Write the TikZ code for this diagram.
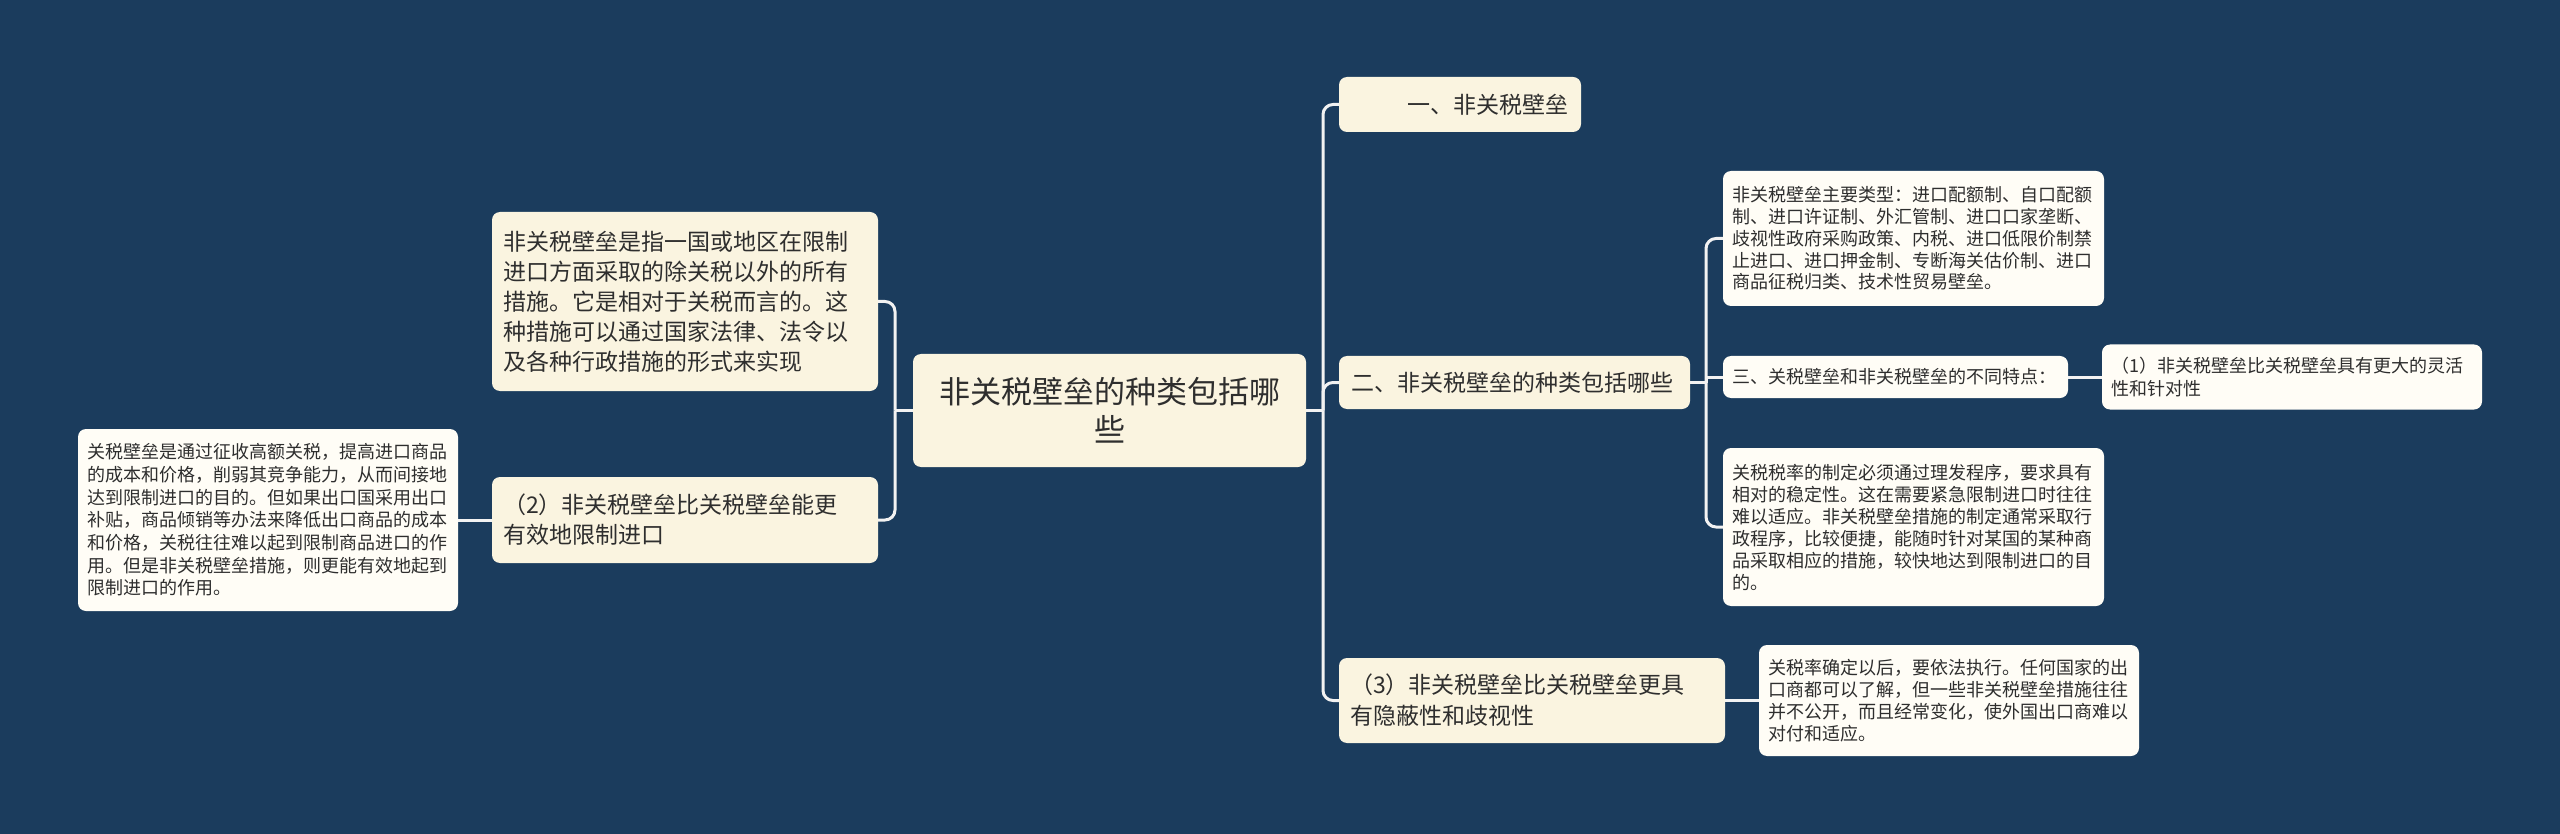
\documentclass[tikz,border=0pt]{standalone}
\usepackage{fontspec}
\newfontfamily\cjk{Noto Sans CJK SC}
\definecolor{bg}{HTML}{1B3C5D}
\definecolor{cream}{HTML}{FAF4E0}
\definecolor{leafc}{HTML}{FFFDF6}
\definecolor{txt}{HTML}{2E2E2E}
\definecolor{linec}{HTML}{F2F2F2}
\newcommand\fRoot{\cjk\fontsize{31pt}{38pt}\selectfont}
\newcommand\fMid{\cjk\fontsize{23pt}{30pt}\selectfont}
\newcommand\fMidB{\cjk\fontsize{23pt}{31pt}\selectfont}
\newcommand\fSmall{\cjk\fontsize{18pt}{22.7pt}\selectfont}
\newcommand\fSmallB{\cjk\fontsize{18pt}{21.7pt}\selectfont}
\newcommand\fSmallC{\cjk\fontsize{18pt}{22pt}\selectfont}
\newcommand\fSmallD{\cjk\fontsize{18pt}{23pt}\selectfont}
\begin{document}
\begin{tikzpicture}[x=1pt,y=-1pt,
  box/.style={rounded corners=8pt, text=txt, inner ysep=0pt, inner xsep=11pt, anchor=center},
  main/.style={box, fill=cream},
  leaf/.style={box, fill=leafc},
  conn/.style={draw=linec, line width=3pt, rounded corners=10pt},
  straight/.style={draw=linec, line width=3pt}]
\fill[bg] (0,0) rectangle (2560,834);
\useasboundingbox (0,0) rectangle (2560,834);

% root
\node[main, font=\fRoot, minimum width=393pt, minimum height=113pt, text width=371pt, align=center] (root) at (1109.5,410.5) {非关税壁垒的种类包括哪\\些};

% left side
\node[main, font=\fMid, minimum width=386pt, minimum height=179pt, text width=364pt, align=left] (L1) at (685,301.5) {非关税壁垒是指一国或地区在限制\\进口方面采取的除关税以外的所有\\措施。它是相对于关税而言的。这\\种措施可以通过国家法律、法令以\\及各种行政措施的形式来实现};
\node[main, font=\fMid, minimum width=386pt, minimum height=86pt, text width=364pt, align=left] (L2) at (685,520) {（2）非关税壁垒比关税壁垒能更\\有效地限制进口};
\node[leaf, font=\fSmall, minimum width=380pt, minimum height=182pt, text width=362pt, inner xsep=9pt, align=left] (LL) at (268,520) {关税壁垒是通过征收高额关税，提高进口商品\\的成本和价格，削弱其竞争能力，从而间接地\\达到限制进口的目的。但如果出口国采用出口\\补贴，商品倾销等办法来降低出口商品的成本\\和价格，关税往往难以起到限制商品进口的作\\用。但是非关税壁垒措施，则更能有效地起到\\限制进口的作用。};

% right side, level 1
\node[main, font=\fMid, minimum width=242pt, minimum height=55pt, text width=216pt, inner xsep=13pt, align=right] (R1) at (1460,104.5) {一、非关税壁垒};
\node[main, font=\fMid, minimum width=351pt, minimum height=53pt, text width=327pt, inner xsep=12pt, align=left] (R2) at (1514.5,382.5) {二、非关税壁垒的种类包括哪些};
\node[main, font=\fMidB, minimum width=386pt, minimum height=85pt, text width=364pt, align=left] (R3) at (1532,700.5) {（3）非关税壁垒比关税壁垒更具\\有隐蔽性和歧视性};

% right side, level 2
\node[leaf, font=\fSmallB, minimum width=381pt, minimum height=135pt, text width=363pt, inner xsep=9pt, align=left] (C1) at (1913.5,238.5) {非关税壁垒主要类型：进口配额制、自口配额\\制、进口许证制、外汇管制、进口口家垄断、\\歧视性政府采购政策、内税、进口低限价制禁\\止进口、进口押金制、专断海关估价制、进口\\商品征税归类、技术性贸易壁垒。};
\node[leaf, font=\fSmall, minimum width=345pt, minimum height=42pt, text width=327pt, inner xsep=9pt, align=left] (N3) at (1895.5,377) {三、关税壁垒和非关税壁垒的不同特点：};
\node[leaf, font=\fSmallD, minimum width=380pt, minimum height=65pt, text width=362pt, inner xsep=9pt, align=left] (N31) at (2292,377) {（1）非关税壁垒比关税壁垒具有更大的灵活\\性和针对性};
\node[leaf, font=\fSmallC, minimum width=381pt, minimum height=158pt, text width=363pt, inner xsep=9pt, align=left] (C3) at (1913.5,527) {关税税率的制定必须通过理发程序，要求具有\\相对的稳定性。这在需要紧急限制进口时往往\\难以适应。非关税壁垒措施的制定通常采取行\\政程序，比较便捷，能随时针对某国的某种商\\品采取相应的措施，较快地达到限制进口的目\\的。};
\node[leaf, font=\fSmallC, minimum width=380pt, minimum height=111pt, text width=362pt, inner xsep=9pt, align=left] (L3) at (1949,700.5) {关税率确定以后，要依法执行。任何国家的出\\口商都可以了解，但一些非关税壁垒措施往往\\并不公开，而且经常变化，使外国出口商难以\\对付和适应。};

% junctions
\coordinate (jL) at (895,410.5);
\coordinate (jR) at (1323,410.5);
\coordinate (jR2) at (1706,382.5);

% connectors left
\draw[straight] (root.west) -- (jL);
\draw[conn] (jL) |- (L1.east);
\draw[conn] (jL) |- (L2.east);
\draw[straight] (L2.west) -- (LL.east);

% connectors right
\draw[straight] (root.east) -- (jR);
\draw[conn] (jR) |- (R1.west);
\draw[conn] (jR) |- (R2.west);
\draw[conn] (jR) |- (R3.west);
\draw[straight] (R2.east) -- (jR2);
\draw[conn] (jR2) |- (C1.west);
\draw[straight] (jR2) |- (N3.west);
\draw[conn] (jR2) |- (C3.west);
\draw[straight] (N3.east) -- (N31.west);
\draw[straight] (R3.east) -- (L3.west);
\end{tikzpicture}
\end{document}
